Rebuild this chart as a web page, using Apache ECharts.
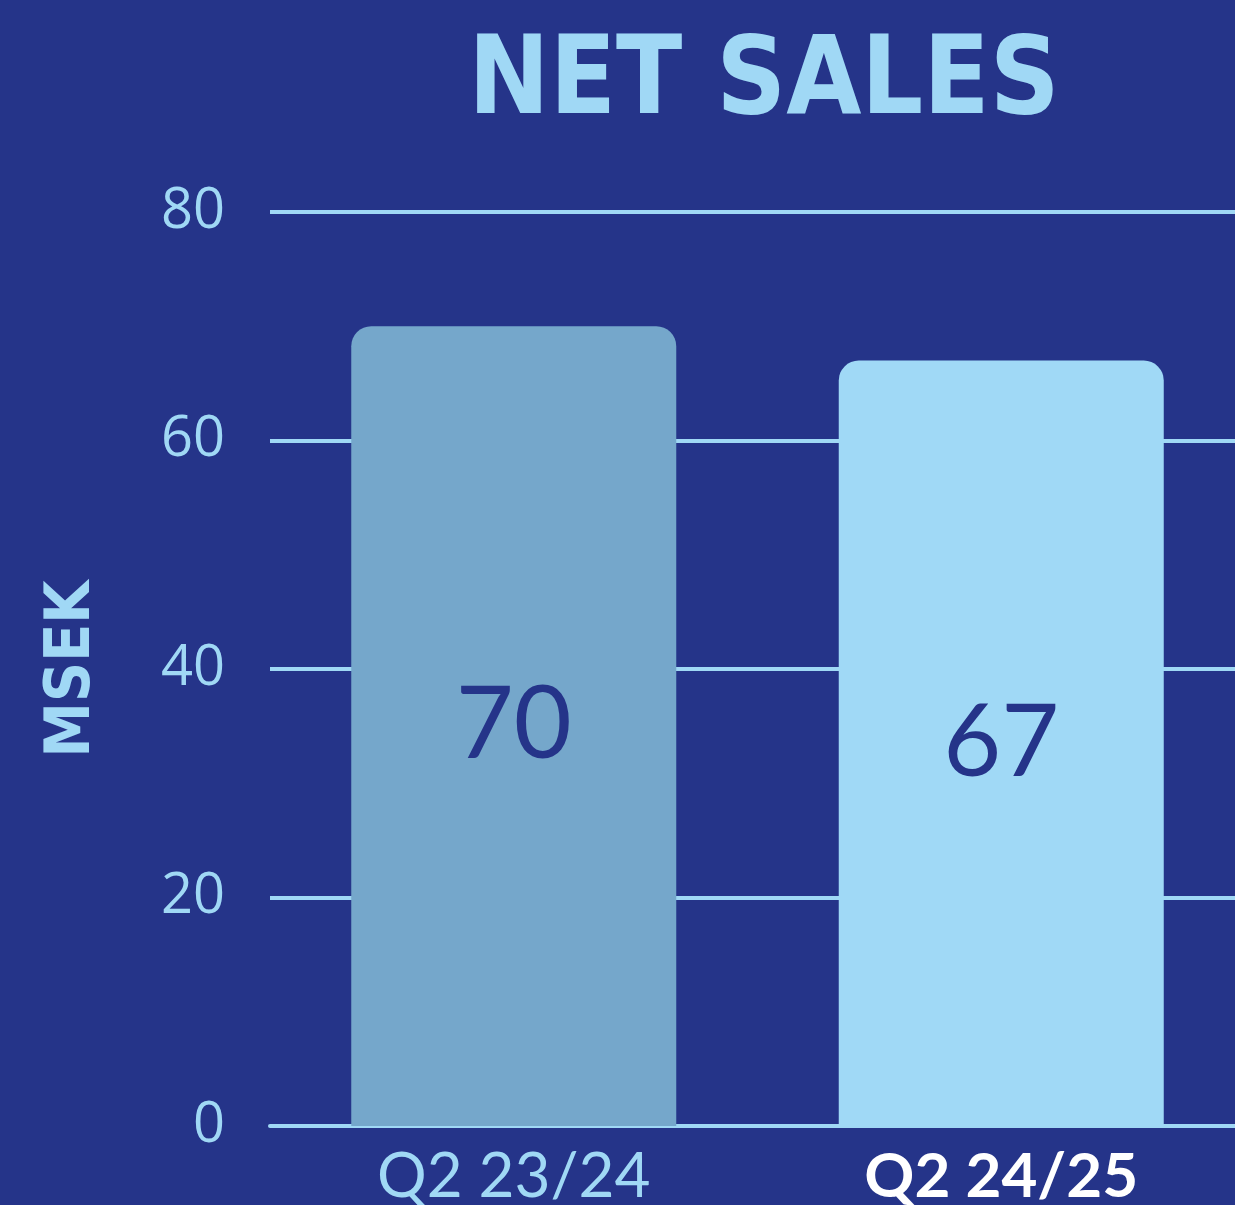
<!DOCTYPE html>
<html>
<head>
<meta charset="utf-8">
<script src="https://cdn.jsdelivr.net/npm/echarts@6/dist/echarts.min.js"></script>
<style>
  html, body { margin: 0; padding: 0; background: #253489; }
  #chart { width: 1235px; height: 1205px; }
</style>
</head>
<body>
<div id="chart"></div>
<script>
// 数据
const categories = ['Q2 23/24', 'Q2 24/25']
const netSales = [70, 67]
const barColors = ['#75a7cb', '#a0d9f6']
const yTicks = [0, 20, 40, 60, 80]

const bg = '#253489'
const light = '#a0d8f5'

let myChart = echarts.init(document.getElementById('chart'))

var option = {
  backgroundColor: bg,
  title: {
    text: 'NET SALES',
    left: 759,
    top: 26,
    textAlign: 'center',
    textStyle: {
      color: light,
      fontFamily: 'DejaVu Sans Condensed',
      fontWeight: 'bold',
      fontSize: 108
    }
  },
  grid: {
    left: 270,
    right: -10,
    top: 212,
    bottom: 79,
    outerBoundsMode: 'none'
  },
  xAxis: {
    type: 'category',
    data: categories,
    axisTick: { show: false },
    axisLine: { lineStyle: { color: light, width: 4 } },
    axisLabel: {
      margin: 20,
      formatter: (val, idx) => idx === 1 ? '{b|' + val + '}' : '{a|' + val + '}',
      rich: {
        a: { color: light, fontSize: 62, fontFamily: 'Lato' },
        b: { color: '#ffffff', fontSize: 62, fontFamily: 'Lato', fontWeight: 'bold' }
      }
    }
  },
  yAxis: {
    type: 'value',
    min: yTicks[0],
    max: yTicks[yTicks.length - 1],
    interval: 20,
    name: 'MSEK',
    nameLocation: 'middle',
    nameRotate: 90,
    nameGap: 166,
    nameTextStyle: {
      color: light,
      fontFamily: 'DejaVu Sans Condensed',
      fontWeight: 'bold',
      fontSize: 62
    },
    axisLine: { show: false },
    axisTick: { show: false },
    axisLabel: {
      color: light,
      fontSize: 56,
      fontFamily: 'Open Sans',
      margin: 45
    },
    splitLine: { lineStyle: { color: light, width: 4 } }
  },
  series: [{
    type: 'bar',
    barWidth: 325,
    data: netSales.map((v, i) => ({
      value: v,
      itemStyle: { color: barColors[i], borderRadius: [20, 20, 0, 0] }
    })),
    label: {
      show: true,
      position: 'inside',
      color: bg,
      fontSize: 100,
      fontFamily: 'Lato'
    }
  }]
}

myChart.setOption(option)
</script>
</body>
</html>
